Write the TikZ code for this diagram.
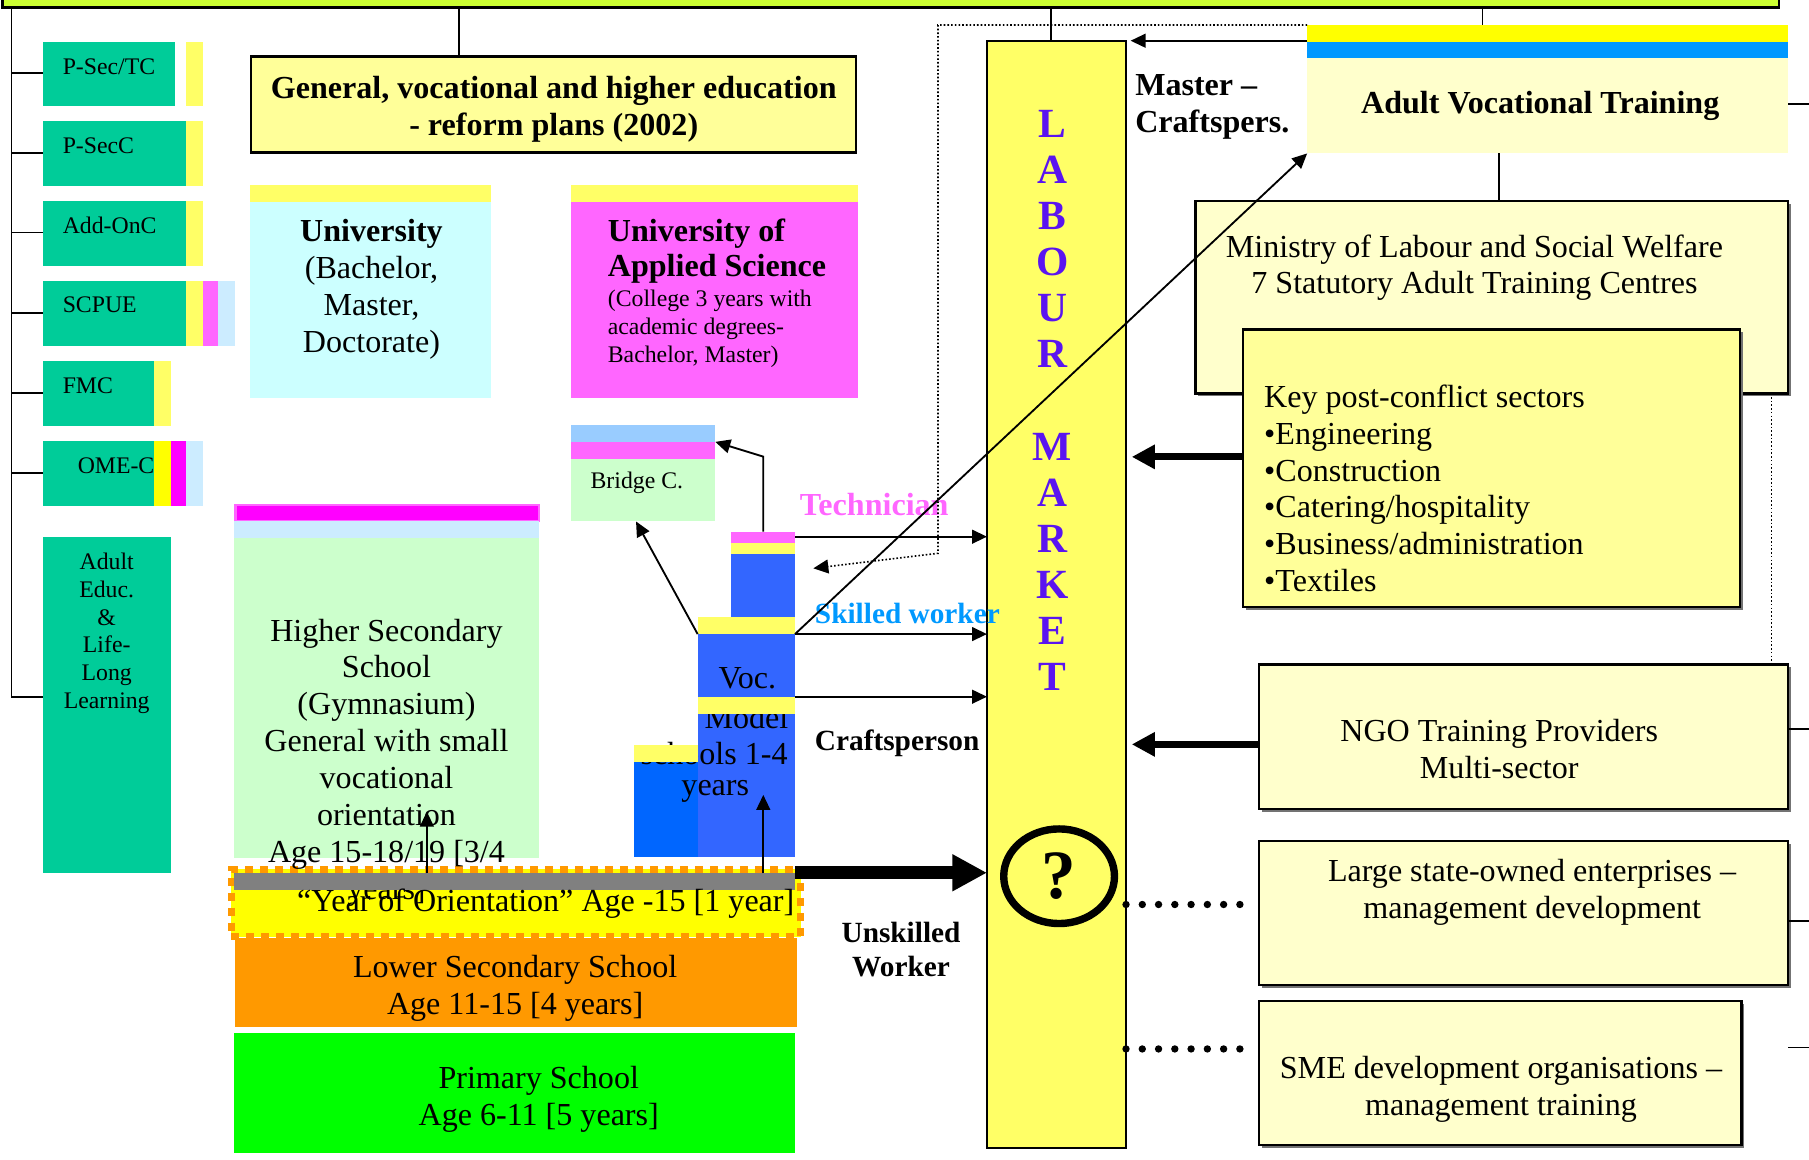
\documentclass[tikz,border=0pt]{standalone}
\usepackage{fontspec}
\setmainfont{Liberation Serif}
\usetikzlibrary{fit,arrows.meta,shapes.geometric,shadows}
\definecolor{cTop}{HTML}{CCFF33}
\definecolor{cTeal}{HTML}{00CC99}
\definecolor{cYel}{HTML}{FFFF66}
\definecolor{cYelB}{HTML}{FFFF00}
\definecolor{cMag}{HTML}{FF66FF}
\definecolor{cMagB}{HTML}{FF00FF}
\definecolor{cLBlue}{HTML}{CCECFF}
\definecolor{cCyan}{HTML}{CCFFFF}
\definecolor{cPale}{HTML}{CCFFCC}
\definecolor{cSky}{HTML}{99CCFF}
\definecolor{cVoc}{HTML}{3366FF}
\definecolor{cVocL}{HTML}{0066FF}
\definecolor{cGray}{HTML}{808080}
\definecolor{cOrange}{HTML}{FF9900}
\definecolor{cPrim}{HTML}{00FF00}
\definecolor{cLetter}{HTML}{5A14F0}
\definecolor{cAvtBlue}{HTML}{0099FF}
\definecolor{cCream}{HTML}{FFFFCC}
\definecolor{cKey}{HTML}{FFFF99}
\definecolor{cSkill}{HTML}{0099FF}
\tikzset{
  rectspan/.style n args={4}{fit={(#1,#2) (#3,#4)}},
  area/.style={inner sep=0pt, outer sep=0pt, draw=none},
  framed/.style={area, draw=black, line width=1pt},
  shad/.style={drop shadow={shadow xshift=1.2pt, shadow yshift=-1.2pt, fill=black!55, opacity=1}},
  lbl/.style={inner sep=0pt, align=center, font=\fontsize{13.9}{16}\selectfont},
  lblb/.style={inner sep=0pt, align=center, font=\fontsize{13.9}{16}\selectfont\bfseries},
  lbls/.style={inner sep=0pt, align=center, font=\fontsize{10.3}{12}\selectfont},
  lblm/.style={inner sep=0pt, align=center, font=\fontsize{12.7}{15}\selectfont\bfseries},
  lnk/.style={line width=0.8pt},
  arrThin/.style={line width=0.8pt, -{Triangle[length=6.5pt,width=6pt]}},
  arrFat/.style={line width=3pt, -{Triangle[length=10pt,width=10pt]}},
  arrHuge/.style={line width=5.5pt, -{Triangle[length=15pt,width=15pt]}},
  dotsFine/.style={line width=0.7pt, dash pattern=on 0.7pt off 0.9pt},
  dotsBig/.style={line width=3.2pt, line cap=round, dash pattern=on 0pt off 7.05pt},
}
\begin{document}
\begin{tikzpicture}[x=0.5pt, y=-0.5pt]
\useasboundingbox (0,0) rectangle (1568,1005);

% top bar
\node[area, draw=black, line width=1.2pt, fill=cTop, rectspan={2}{-12}{1542}{6.5}] (topbar) {};

% left column boxes
\node[area, fill=cTeal, rectspan={37}{36}{151.5}{91.5}] (psectc) {};
\node[area, fill=cTeal, rectspan={37}{105}{161}{161}] (psecc) {};
\node[area, fill=cTeal, rectspan={37}{174.5}{161}{230.5}] (addonc) {};
\node[area, fill=cTeal, rectspan={37}{244}{161}{299.5}] (scpue) {};
\node[area, fill=cTeal, rectspan={37}{313}{133.5}{369}] (fmc) {};
\node[area, fill=cTeal, rectspan={37}{382.5}{133.5}{438.5}] (omec) {};
\node[area, fill=cTeal, rectspan={37}{465.5}{148}{757}] (adult) {};
\node[lbls, anchor=west] (t1) at (54,57.5) {P-Sec/TC};
\node[lbls, anchor=west] (t2) at (54,126) {P-SecC};
\node[lbls, anchor=west] (t3) at (54,195) {Add-OnC};
\node[lbls, anchor=west] (t4) at (54,264.5) {SCPUE};
\node[lbls, anchor=west] (t5) at (54,334) {FMC};
\node[lbls, anchor=west] (t6) at (67,404) {OME-C};
\node[lbls] (t7) at (92.5,549) {Adult\\Educ.\\\&\\Life-\\Long\\Learning};
\node[area, fill=cYel, rectspan={161}{36}{176}{91.5}] (s1) {};
\node[area, fill=cYel, rectspan={161}{105}{176}{161}] (s2) {};
\node[area, fill=cYel, rectspan={161}{174.5}{176}{230.5}] (s3) {};
\node[area, fill=cYel, rectspan={161}{244}{176}{299.5}] (s4a) {};
\node[area, fill=cMag, rectspan={176}{244}{189}{299.5}] (s4b) {};
\node[area, fill=cLBlue, rectspan={189}{244}{203.5}{299.5}] (s4c) {};
\node[area, fill=cYel, rectspan={133.5}{313}{148}{369}] (s5) {};
\node[area, fill=cYelB, rectspan={133.5}{382.5}{148}{438.5}] (s6a) {};
\node[area, fill=cMagB, rectspan={148}{382.5}{161}{438.5}] (s6b) {};
\node[area, fill=cLBlue, rectspan={161}{382.5}{176}{438.5}] (s6c) {};
\draw[lnk] (topbar.south -| 10,0) -- (10,604) -- (adult.west |- 0,604);
\foreach \n/\y in {psectc/63, psecc/132.5, addonc/201.5, scpue/271, fmc/340.5, omec/410}
  \draw[lnk] (10,\y) -- (\n.west |- 0,\y);

% title box
\node[area, draw=black, line width=1.2pt, fill=cKey, rectspan={217.5}{49}{742}{132.5}] (gvhe) {};
\node[lblb] (gvheT) at (480,95) {General, vocational and higher education\\- reform plans (2002)};
\draw[lnk] (topbar.south -| 398,0) -- (gvhe.north -| 398,0);

% universities
\node[area, fill=cYel, rectspan={217}{160.5}{425.5}{175}] (univS) {};
\node[area, fill=cCyan, rectspan={217}{175}{425.5}{345}] (univ) {};
\node[lbl] (univT) at (322,251) {{\bfseries University}\\(Bachelor,\\Master,\\Doctorate)};
\node[area, fill=cYel, rectspan={494.5}{160.5}{744}{175}] (uasS) {};
\node[area, fill=cMag, rectspan={494.5}{175}{744}{345}] (uas) {};
\node[lblb, align=left, anchor=west, font=\fontsize{13.9}{15.2}\selectfont\bfseries] (uasT1) at (526.5,218) {University of\\Applied Science};
\node[lbls, align=left, anchor=west] (uasT2) at (526.5,285) {(College 3 years with\\academic degrees-\\Bachelor, Master)};

% bridge
\node[area, fill=cSky, rectspan={494.5}{368.5}{620}{383}] (bridgeS) {};
\node[area, fill=cMag, rectspan={494.5}{383}{620}{397.5}] (bridgeM) {};
\node[area, fill=cPale, rectspan={494.5}{397.5}{620}{452}] (bridge) {};
\node[lbls] (bridgeT) at (552,418.5) {Bridge C.};

% higher secondary
\node[area, fill=cMagB, draw=cMag, line width=1pt, rectspan={204}{437.5}{467}{451.5}] (hssM) {};
\node[area, fill=cLBlue, rectspan={203}{451.5}{467.5}{466}] (hssB) {};
\node[area, fill=cPale, rectspan={203}{466}{467.5}{743.4}] (hss) {};

% year band, lower, primary
\node[area, fill=cYelB, draw=cOrange, line width=3pt, dash pattern=on 3.5pt off 3pt, rectspan={200.4}{753.5}{694}{812}] (yearband) {};
\node[area, fill=cOrange, rectspan={203.5}{813}{690.8}{890.4}] (lower) {};
\node[lbl] (lowerT) at (446.5,857) {Lower Secondary School\\Age 11-15 [4 years]};
\node[area, fill=cPrim, rectspan={202.8}{895}{689}{999.7}] (prim) {};
\node[lbl] (primT) at (467,953) {Primary School\\Age 6-11 [5 years]};
\node[lbl] (hssT) at (335,661) {Higher Secondary\\School\\(Gymnasium)\\General with small\\vocational\\orientation\\Age 15-18/19 [3/4\\years]};
\node[area, fill=cGray, rectspan={202.8}{757}{689.2}{771}] (gray) {};
\node[lbl] (yearT) at (473,783.5) {“Year of Orientation” Age -15 [1 year]};
\coordinate (hssUp) at (370,703.5);
\draw[arrThin] (gray.north -| hssUp) -- (hssUp);

% vocational blocks
\node[area, fill=cMag, rectspan={633.6}{460.8}{689.1}{470.4}] (techtop) {};
\node[area, fill=cYel, rectspan={633.6}{470.4}{689.1}{480.2}] (techY) {};
\node[area, fill=cVoc, rectspan={633.6}{480.2}{689.1}{534.5}] (tech) {};
\node[area, fill=cVoc, rectspan={604.7}{534.5}{689.1}{743.1}] (voc) {};
\node[area, fill=cVocL, rectspan={549.5}{645.7}{605}{743.1}] (vocleft) {};
\node[lbl] (vocT1) at (647.8,587.5) {Voc.};
\node[lbl] (vocT2) at (647,622) {Model};
\node[lbl] (vocT3) at (619,653) {schools 1-4};
\node[lbl] (vocT4) at (620,686) {years};
\node[area, fill=cYel, rectspan={604.7}{534.5}{689.1}{549.6}] (vocy1) {};
\node[area, fill=cYel, rectspan={604.7}{603.9}{689.1}{618.9}] (vocy2) {};
\node[area, fill=cYel, rectspan={549.5}{645.7}{605}{660.2}] (vocleftY) {};
\coordinate (vocUp) at (661.6,689);
\draw[arrThin] (gray.north -| vocUp) -- (vocUp);

% labour market
\node[area, draw=black, line width=1pt, fill=cYel, rectspan={855.5}{35.3}{976}{995}] (lm) {};
\node[inner sep=0pt, align=center, text=cLetter, font=\fontsize{18}{20}\selectfont\bfseries] (lmT) at (912,347) {L\\A\\B\\O\\U\\R\\[20pt]M\\A\\R\\K\\E\\T};
\node[ellipse, draw=black, line width=3.2pt, minimum width=48pt, minimum height=41pt, inner sep=0pt, font=\fontsize{30}{30}\selectfont\bfseries] (qm) at (918,759.5) {?};
\draw[lnk] (topbar.south -| 911,0) -- (lm.north -| 911,0);

% right boxes
\node[area, fill=cCream, rectspan={1133}{21.7}{1550}{133}] (avt) {};
\node[area, fill=cYelB, rectspan={1133}{21.7}{1550}{36.1}] (avtY) {};
\node[area, fill=cAvtBlue, rectspan={1133}{36.1}{1550}{50}] (avtB) {};
\node[lblb] (avtT) at (1335,91.5) {Adult Vocational Training};
\draw[lnk] (topbar.south -| 1285,0) -- (avt.north -| 1285,0);
\node[framed, shad, fill=cCream, rectspan={1036.3}{174.2}{1550}{341}] (min) {};
\node[lbl] (minT) at (1278,232) {Ministry of Labour and Social Welfare\\7 Statutory Adult Training Centres};
\node[framed, shad, fill=cKey, rectspan={1077.3}{285.5}{1508}{526.4}] (key) {};
\node[lbl, align=left, anchor=west] (keyT) at (1095.4,423.3) {Key post-conflict sectors\\•Engineering\\•Construction\\•Catering/hospitality\\•Business/administration\\•Textiles};
\node[framed, shad, fill=cCream, rectspan={1091.3}{576}{1549.8}{701.2}] (ngo) {};
\node[lbl] (ngoT) at (1299.5,649.5) {NGO Training Providers\\Multi-sector};
\node[framed, shad, fill=cCream, rectspan={1091.3}{729}{1549.8}{854}] (lso) {};
\node[lbl] (lsoT) at (1328,773.3) {Large state-owned enterprises –\\management development};
\node[framed, shad, fill=cCream, rectspan={1091.3}{867.5}{1509.5}{992.5}] (sme) {};
\node[lbl] (smeT) at (1301,944.4) {SME development organisations –\\management training};

% labels
\node[lblb, text=cMag, anchor=west] (techL) at (693,437) {Technician};
\node[lblm, text=cSkill, anchor=west] (skL) at (706,531.5) {Skilled worker};
\node[lblm, anchor=west] (crL) at (706,644) {Craftsperson};
\node[lblm] (unL) at (781,823) {Unskilled\\Worker};
\node[lblb, align=left, anchor=west] (mcL) at (983.6,92.7) {Master –\\Craftspers.};

% connectors
\draw[lnk] (avt.south -| 1299,0) -- (min.north -| 1299,0);
\draw[dotsFine] (min.south -| 1535.5,0) -- (ngo.north -| 1535.5,0);
\coordinate (edge1) at (1568,90);
\coordinate (edge2) at (1568,632);
\coordinate (edge3) at (1568,798);
\coordinate (edge4) at (1568,908);
\coordinate (stub4) at (1550,908);
\draw[lnk] (avt.east |- edge1) -- (edge1);
\draw[lnk] (ngo.east |- edge2) -- (edge2);
\draw[lnk] (lso.east |- edge3) -- (edge3);
\draw[lnk] (stub4) -- (edge4);
\draw[arrThin, shorten >=2pt] (avt.west |- 0,35.3) -- (lm.east |- 0,35.3);
\draw[arrFat, shorten >=2.5pt] (key.west |- 0,396) -- (lm.east |- 0,396);
\draw[arrFat, shorten >=2.5pt] (ngo.west |- 0,645.2) -- (lm.east |- 0,645.2);
\draw[dotsBig, shorten >=3pt] (lm.east |- 0,784) -- (lso.west |- 0,784);
\draw[dotsBig, shorten >=3pt] (lm.east |- 0,909.2) -- (sme.west |- 0,909.2);
\draw[arrThin] (techtop.east |- 0,465.2) -- (lm.west |- 0,465.2);
\draw[arrThin] (vocy1.south east) -- (lm.west |- vocy1.south east);
\draw[arrThin] (vocy2.north east) -- (lm.west |- vocy2.north east);
\draw[arrHuge] (gray.east |- 0,756.5) -- (lm.west |- 0,756.5);
\draw[arrThin] (techtop.north -| 661.6,0) -- (661.6,395.8) -- (bridgeS.south east);
\draw[arrThin] (vocy1.south west) -- (bridge.south -| 551.3,0);
\draw[arrThin] (vocy1.south east) -- (avt.south west);
\coordinate (dotA) at (813,21.7);
\coordinate (dotB) at (813,479.6);
\coordinate (dotEnd) at (705,492.6);
\draw[dotsFine, -{Triangle[length=6.5pt,width=6pt]}] (avt.north west) -- (dotA) -- (dotB) -- (dotEnd);
\end{tikzpicture}
\end{document}
